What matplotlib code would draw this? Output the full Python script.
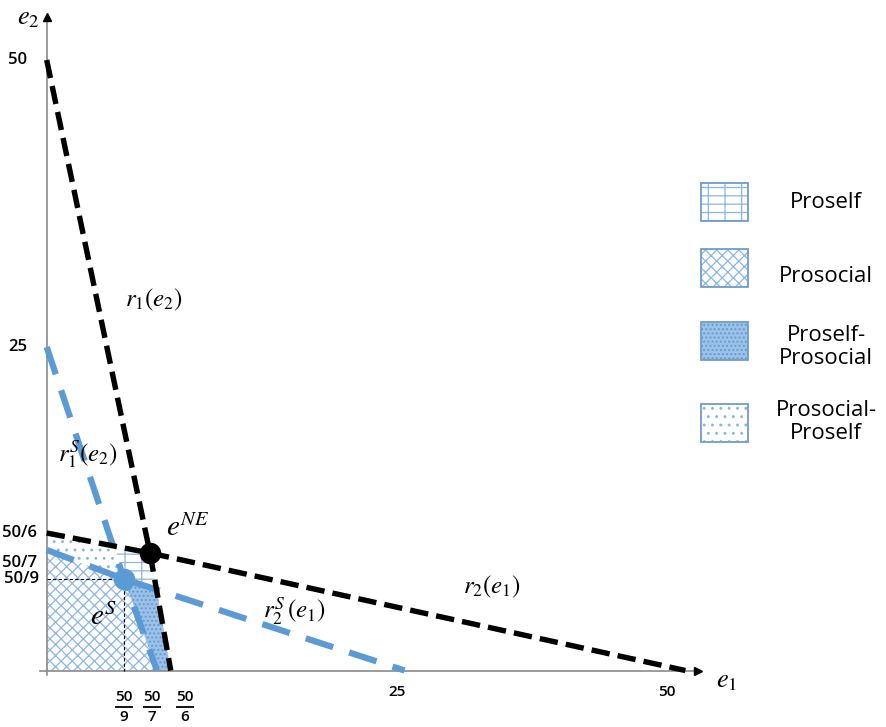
import numpy as np
import matplotlib; matplotlib.use("Agg")
import matplotlib.pyplot as plt
from matplotlib.patches import Polygon, Rectangle
from matplotlib.transforms import offset_copy

plt.rcParams['mathtext.fontset'] = 'stix'
plt.rcParams['hatch.linewidth'] = 0.9

# hand-drawn axes are not linear: value -> pixel anchors of the picture
XD = [-3.45, 0, 50/9, 50/7, 50/6, 25, 50, 70.4]
XP = [0, 46.7, 124, 152, 185, 397, 667, 887]
YD = [-3.43, 0, 50/9, 50/7, 50/6, 25, 50, 55.2]
YP = [0, 56.5, 148, 164, 194, 380, 667, 727]

# best responses (e1, e2)
R1_E1 = [0, 7.03, 7.82];      R1_E2 = [50, 7.54, 0]
R2_E1 = [0, 7.03, 51.7];      R2_E2 = [50/6, 7.54, 0]
R1S_E1 = [0, 50/9, 7.32];     R1S_E2 = [25, 50/9, 0]
R2S_E1 = [0, 50/9, 25.7];     R2S_E2 = [7.66, 50/9, 0]
E_NE = (7.03, 7.54)
E_S = (50/9, 50/9)

# regions
PROSOCIAL = ([0, 0, 50/9, 7.32], [0, 7.66, 50/9, 0])
PROSOCIAL_PROSELF = ([0, 0, 50/9, 4.91], [50/6, 7.66, 50/9, 7.74])
PROSELF = ([4.91, 7.03, 7.31, 50/9], [7.74, 7.54, 4.89, 50/9])
PROSELF_PROSOCIAL = ([50/9, 7.31, 7.82, 7.32], [50/9, 4.89, 0, 0])

XTICKS = [25, 50]; XTICK_LBL = ["25", "50"]
XFRAC = [50/9, 50/7, 50/6]; XFRAC_DEN = ["9", "7", "6"]
YTICKS = [50, 25, 50/6, 50/7, 50/9]; YTICK_LBL = ["50", "25", "50/6", "50/7", "50/9"]

LEG_LBL = ["Proself", "Prosocial", "Proself-\nProsocial", "Prosocial-\nProself"]

BLUE = '#5B9BD5'; HATCH = '#8DB6E2'
W, H = 887, 727
fig = plt.figure(figsize=(W/100, H/100), dpi=100)
ax = fig.add_axes([0, 0, 1, 1])
ax.set_xscale('function', functions=(lambda v: np.interp(v, XD, XP), lambda p: np.interp(p, XP, XD)))
ax.set_yscale('function', functions=(lambda v: np.interp(v, YD, YP), lambda p: np.interp(p, YP, YD)))
ax.set_xlim(XD[0], XD[-1]); ax.set_ylim(YD[0], YD[-1])
ax.axis('off')

def pt(x, y):
    return x / W, 1 - y / H

styles = [(PROSOCIAL, dict(facecolor='white', hatch='xxx', edgecolor=HATCH)),
          (PROSOCIAL_PROSELF, dict(facecolor='white', hatch='..', edgecolor=HATCH)),
          (PROSELF, dict(facecolor='white', hatch='-|-', edgecolor=HATCH)),
          (PROSELF_PROSOCIAL, dict(facecolor='#9CC0E6', hatch='....', edgecolor=BLUE))]
for (xs, ys), st in styles:
    ax.add_patch(Polygon(np.column_stack([xs, ys]), closed=True, lw=0, zorder=1, **st))

# axes
ax.plot([-0.5, 52.9], [0, 0], color='#8a8a8a', lw=1.2, zorder=2)
ax.plot([0, 0], [-0.3, 53.7], color='#8a8a8a', lw=1.2, zorder=2)
ax.plot([52.9], [0], marker='>', color='black', ms=6, zorder=3)
ax.plot([0], [53.7], marker='^', color='black', ms=6, zorder=3)

ax.plot(R1S_E1, R1S_E2, color=BLUE, lw=4.5, ls=(0, (4.6, 2.7)), zorder=3)
ax.plot(R2S_E1, R2S_E2, color=BLUE, lw=4.5, ls=(0, (4.6, 2.7)), zorder=3)
ax.plot(R1_E1, R1_E2, color='black', lw=3.9, ls=(0, (3.4, 1.5)), zorder=4)
ax.plot(R2_E1, R2_E2, color='black', lw=3.9, ls=(0, (3.4, 1.5)), zorder=4)

ax.plot([0, E_S[0], E_S[0]], [E_S[1], E_S[1], 0], color='black', lw=0.8, ls=(0, (3, 2)), zorder=3)
ax.plot(*E_NE, marker='o', ms=14.5, color='black', zorder=5)
ax.plot(*E_S, marker='o', ms=14.5, color=BLUE, zorder=5)

# tick labels
tfont = dict(family='Open Sans', fontsize=11, fontweight='semibold')
for v, s in zip(XTICKS, XTICK_LBL):
    ax.annotate(s, (v, 0), xytext=(0, -15.5), textcoords='offset points', ha='center', va='center', **tfont)
for v, d in zip(XFRAC, XFRAC_DEN):
    ax.annotate("50", (v, 0), xytext=(0, -19), textcoords='offset points', ha='center', va='center', **tfont)
    ax.annotate(d, (v, 0), xytext=(0, -33.5), textcoords='offset points', ha='center', va='center', **tfont)
    ax.plot([v], [0], marker='_', ms=13.5, mew=1.3, color='black',
            transform=offset_copy(ax.transData, fig=fig, x=0, y=-26.6, units='points'))
yt = ax.get_yaxis_transform()
for v, s, x in zip(YTICKS, YTICK_LBL, [8, 8, 2, 2, 4]):
    ax.text(x / W, v, s, transform=yt, ha='left', va='center', family='Open Sans',
            fontsize=12, fontweight='semibold')

# curve labels
mt = dict(ha='center', va='center', fontsize=18)
fig.text(*pt(154, 300), r'$r_1(e_2)$', **mt)
fig.text(*pt(88, 455), r'$r_1^S(e_2)$', **mt)
fig.text(*pt(492, 587), r'$r_2(e_1)$', **mt)
fig.text(*pt(294, 612), r'$r_2^S\,(e_1)$', **mt)
fig.text(*pt(188, 528), r'$e^{NE}$', ha='center', va='center', fontsize=21)
fig.text(*pt(104, 617), r'$e^{S}$', ha='center', va='center', fontsize=21)
fig.text(*pt(727, 680), r'$e_1$', ha='center', va='center', fontsize=19)
fig.text(*pt(28, 17), r'$e_2$', ha='center', va='center', fontsize=19)

# legend
boxes = [(183, dict(facecolor='white', hatch='-|-', edgecolor=HATCH)),
         (249, dict(facecolor='white', hatch='xxx', edgecolor=HATCH)),
         (322, dict(facecolor='#9CC0E6', hatch='....', edgecolor=BLUE)),
         (404, dict(facecolor='white', hatch='..', edgecolor=HATCH))]
ly = [203, 276, 347, 422]
for (top, st), s, y in zip(boxes, LEG_LBL, ly):
    x0, y0 = pt(701, top + 38)
    fig.add_artist(Rectangle((x0, y0), 47 / W, 38 / H, transform=fig.transFigure, lw=0, **st))
    fig.add_artist(Rectangle((x0, y0), 47 / W, 38 / H, transform=fig.transFigure, lw=1.3,
                             facecolor='none', edgecolor='#6E9CCB'))
    fig.text(*pt(826, y), s, ha='center', va='center', family='Open Sans', fontsize=16, linespacing=1.1)

fig.savefig("out.png", dpi=100)
